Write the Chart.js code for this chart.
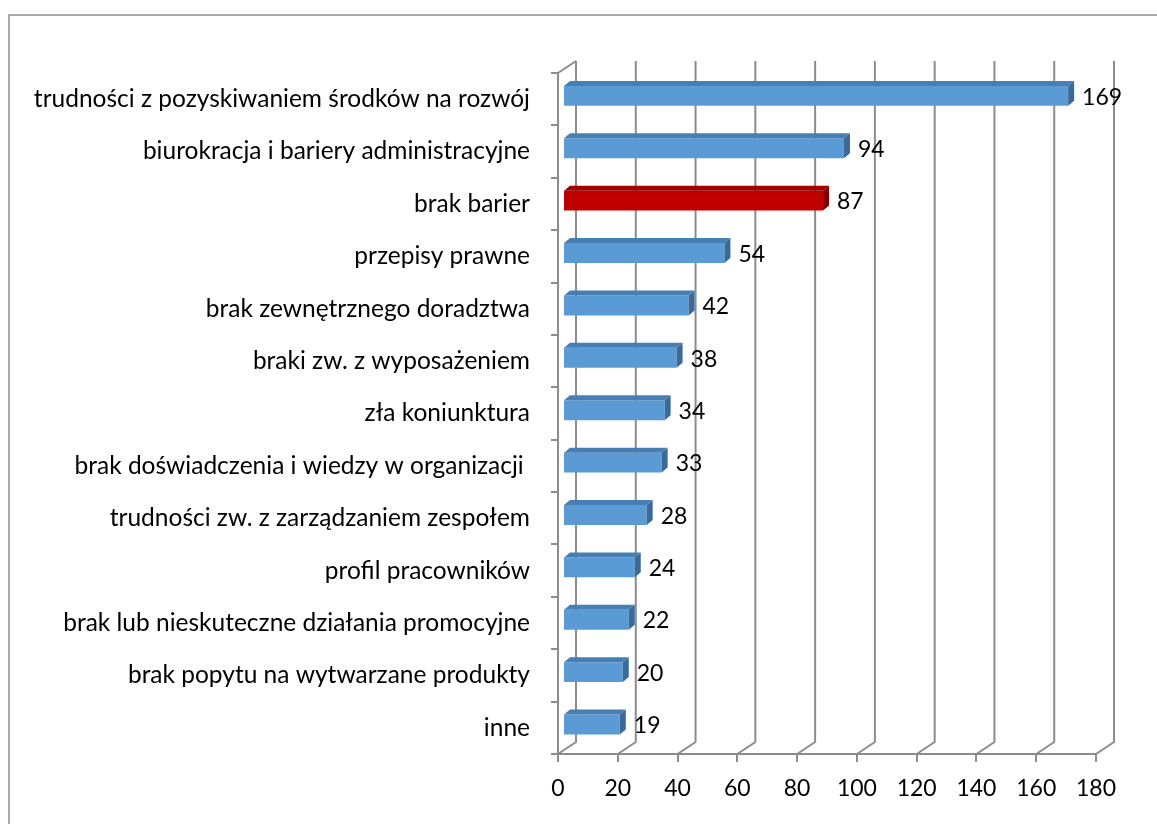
<!DOCTYPE html>
<html>
<head>
<meta charset="utf-8">
<title>Bariery rozwoju</title>
<style>
  html, body { margin: 0; padding: 0; background: #ffffff; }
  #wrap { position: relative; width: 1157px; height: 824px; }
</style>
<script src="https://cdn.jsdelivr.net/npm/chart.js@4/dist/chart.umd.min.js"></script>
</head>
<body>
<div id="wrap"><canvas id="chart" width="1157" height="824"></canvas></div>
<script>
// Survey answers: barriers named by respondents (number of mentions)
const categories = [
  'trudności z pozyskiwaniem środków na rozwój',
  'biurokracja i bariery administracyjne',
  'brak barier',
  'przepisy prawne',
  'brak zewnętrznego doradztwa',
  'braki zw. z wyposażeniem',
  'zła koniunktura',
  'brak doświadczenia i wiedzy w organizacji ',
  'trudności zw. z zarządzaniem zespołem',
  'profil pracowników',
  'brak lub nieskuteczne działania promocyjne',
  'brak popytu na wytwarzane produkty',
  'inne'
];
const mentions = [169, 94, 87, 54, 42, 38, 34, 33, 28, 24, 22, 20, 19];
const xTickValues = [0, 20, 40, 60, 80, 100, 120, 140, 160, 180];
const highlightedCategory = 'brak barier';

// Styling of the pseudo-3D box
const FONT = 'Lato, "Open Sans", sans-serif';
const GRID_COLOR = '#8c8c8c';
const WALL_DEPTH = { dx: 18, dy: -12 };   // front floor edge -> back wall
const BAR_PLANE = { dx: 5, dy: -3.3 };    // front face of the bars inside the box
const BAR_DEPTH = { dx: 6, dy: -5 };      // thickness of each bar
const BLUE = { front: '#5b9bd5', top: '#477fb4', side: '#3b6a96' };
const RED = { front: '#c00000', top: '#a00000', side: '#7f0000' };

const palette = categories.map(c => (c === highlightedCategory ? RED : BLUE));

// Outer chart frame (left and top edges are visible)
const framePlugin = {
  id: 'frame',
  beforeDraw(chart) {
    const ctx = chart.ctx;
    ctx.save();
    ctx.fillStyle = '#ffffff';
    ctx.fillRect(0, 0, chart.width, chart.height);
    ctx.strokeStyle = '#a9a9a9';
    ctx.lineWidth = 2;
    ctx.beginPath();
    ctx.moveTo(9, chart.height + 2);
    ctx.lineTo(9, 15);
    ctx.lineTo(chart.width + 2, 15);
    ctx.stroke();
    ctx.restore();
  }
};

// Floor diagonals, back-wall gridlines and the 3D bar faces
const boxPlugin = {
  id: 'box3d',
  beforeDatasetsDraw(chart) {
    const { ctx, chartArea, scales } = chart;
    const x = scales.x;
    ctx.save();
    ctx.strokeStyle = GRID_COLOR;
    ctx.lineWidth = 2;
    ctx.lineJoin = 'miter';
    x.ticks.forEach(t => {
      const px = x.getPixelForValue(t.value);
      ctx.beginPath();
      ctx.moveTo(px, chartArea.bottom);
      ctx.lineTo(px + WALL_DEPTH.dx, chartArea.bottom + WALL_DEPTH.dy);
      ctx.lineTo(px + WALL_DEPTH.dx, chartArea.top + WALL_DEPTH.dy);
      ctx.stroke();
    });
    // top edge of the side wall
    ctx.beginPath();
    ctx.moveTo(chartArea.left, chartArea.top);
    ctx.lineTo(chartArea.left + WALL_DEPTH.dx, chartArea.top + WALL_DEPTH.dy);
    ctx.stroke();
    ctx.restore();

    // bars sit a little behind the front plane
    ctx.save();
    ctx.translate(BAR_PLANE.dx, BAR_PLANE.dy);
  },
  afterDatasetsDraw(chart) {
    const ctx = chart.ctx;
    const meta = chart.getDatasetMeta(0);
    meta.data.forEach((bar, i) => {
      const p = bar.getProps(['x', 'y', 'base', 'height'], true);
      const top = p.y - p.height / 2;
      const bottom = p.y + p.height / 2;
      const c = palette[i];
      // top face
      ctx.fillStyle = c.top;
      ctx.beginPath();
      ctx.moveTo(p.base, top);
      ctx.lineTo(p.base + BAR_DEPTH.dx, top + BAR_DEPTH.dy);
      ctx.lineTo(p.x + BAR_DEPTH.dx, top + BAR_DEPTH.dy);
      ctx.lineTo(p.x, top);
      ctx.closePath();
      ctx.fill();
      // side face
      ctx.fillStyle = c.side;
      ctx.beginPath();
      ctx.moveTo(p.x, top);
      ctx.lineTo(p.x + BAR_DEPTH.dx, top + BAR_DEPTH.dy);
      ctx.lineTo(p.x + BAR_DEPTH.dx, bottom + BAR_DEPTH.dy);
      ctx.lineTo(p.x, bottom);
      ctx.closePath();
      ctx.fill();
    });
    ctx.restore();

    // value labels
    ctx.save();
    ctx.fillStyle = '#000000';
    ctx.font = '23px ' + FONT;
    ctx.textAlign = 'left';
    ctx.textBaseline = 'middle';
    meta.data.forEach((bar, i) => {
      const p = bar.getProps(['x', 'y'], true);
      ctx.fillText(String(mentions[i]), p.x + 19, p.y - 2);
    });
    ctx.restore();
  }
};

new Chart(document.getElementById('chart'), {
  type: 'bar',
  data: {
    labels: categories,
    datasets: [{
      data: mentions,
      backgroundColor: palette.map(c => c.front),
      borderWidth: 0,
      barPercentage: 0.38,
      categoryPercentage: 1,
      clip: false
    }]
  },
  options: {
    indexAxis: 'y',
    responsive: false,
    animation: false,
    devicePixelRatio: 1,
    layout: { padding: { left: 0, top: 73, right: 61, bottom: 0 } },
    plugins: {
      legend: { display: false },
      tooltip: { enabled: false }
    },
    font: { family: FONT },
    scales: {
      x: {
        type: 'linear',
        min: 0,
        max: 180,
        afterBuildTicks: s => { s.ticks = xTickValues.map(v => ({ value: v })); },
        afterFit: s => { s.height = 70; },
        grid: {
          drawOnChartArea: false,
          drawTicks: true,
          tickLength: 8,
          color: GRID_COLOR,
          lineWidth: 2
        },
        border: { display: true, color: GRID_COLOR, width: 2 },
        ticks: {
          color: '#000000',
          font: { family: FONT, size: 23 },
          padding: 13,
          maxRotation: 0,
          autoSkip: false
        }
      },
      y: {
        type: 'category',
        afterFit: s => { s.width = 558; },
        grid: {
          drawOnChartArea: false,
          drawTicks: true,
          tickLength: 7,
          color: GRID_COLOR,
          lineWidth: 2
        },
        border: { display: true, color: GRID_COLOR, width: 2 },
        ticks: {
          color: '#000000',
          font: { family: FONT, size: 24.5 },
          padding: 21,
          autoSkip: false
        }
      }
    }
  },
  plugins: [framePlugin, boxPlugin]
});
</script>
</body>
</html>
